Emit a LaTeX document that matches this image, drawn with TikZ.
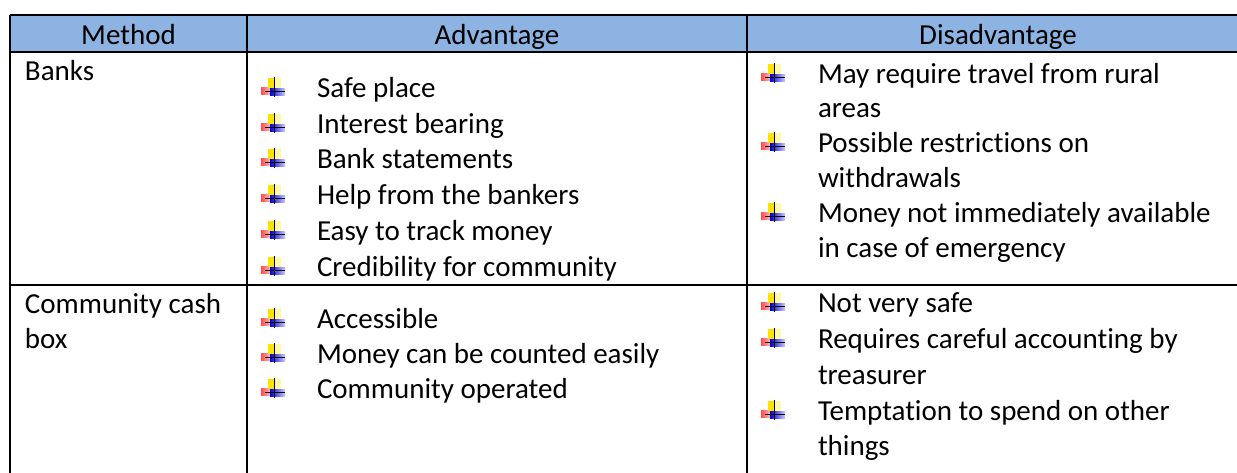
\documentclass[tikz,border=0pt]{standalone}
\usepackage{fontspec}
\setmainfont{Carlito}[Ligatures=NoCommon]
\begin{document}
\begin{tikzpicture}[x=0.5pt,y=-0.5pt,
  txt/.style={anchor=base west,inner sep=0pt,outer sep=0pt,font=\fontsize{14.5}{17}\selectfont},
  hdr/.style={anchor=base,inner sep=0pt,outer sep=0pt,font=\fontsize{14.5}{17}\selectfont},
  grid/.style={line width=1pt,black},
  bul/.pic={
    \shade[left color=red!70,right color=red!20] (-1,-10) rectangle (10,-2.5);
    \fill[yellow!85!orange] (6,-19.5) rectangle (12.5,-9);
    \fill[yellow!35] (12.5,-19.5) rectangle (18.5,-9);
    \shade[left color=blue!85!black,right color=blue!20] (8,-9) rectangle (23,-1.5);
    \draw[line width=0.75pt,black] (12.5,-20.5) -- (12.5,0);
    \draw[line width=0.75pt,black] (3,-5.5) -- (23,-5.5);
  }]
\useasboundingbox (0,0) rectangle (1237,472);
\clip (0,0) rectangle (1237,472);
\fill[white] (0,0) rectangle (1237,472);
% header
\fill[fill={rgb,255:red,141;green,179;blue,226}] (10,15) rectangle (1260,52);
\node[hdr] (hm) at (128.5,44) {Method};
\node[hdr] (ha) at (497,44) {Advantage};
\node[hdr] (hd) at (998,44) {Disadvantage};
% grid
\draw[grid] (10,15) -- (1260,15);
\draw[grid] (10,52) -- (1260,52);
\draw[grid] (10,285) -- (1260,285);
\draw[grid] (10,15) -- (10,490);
\draw[grid] (247,15) -- (247,490);
\draw[grid] (747,15) -- (747,490);
% method column
\node[txt] (m1) at (25,80) {Banks};
\node[txt] (m2a) at (25,313) {Community cash};
\node[txt] (m2b) at (25,348) {box};
% advantages row 1
\foreach \yy/\tt [count=\i] in {97/Safe place,133/Interest bearing,168/Bank statements,204/Help from the bankers,240/Easy to track money,276/Credibility for community}{
  \pic at (262,\yy) {bul};
  \node[txt] (a1\i) at (317,\yy) {\tt};
}
% advantages row 2
\foreach \yy/\tt [count=\i] in {328/Accessible,363/Money can be counted easily,398/Community operated}{
  \pic at (262,\yy) {bul};
  \node[txt] (a2\i) at (317,\yy) {\tt};
}
% disadvantages row 1
\pic at (762,83) {bul};
\node[txt] (d11) at (818,83) {May require travel from rural};
\node[txt] (d12) at (818,117) {areas};
\pic at (762,152) {bul};
\node[txt] (d13) at (818,152) {Possible restrictions on};
\node[txt] (d14) at (818,187) {withdrawals};
\pic at (762,222) {bul};
\node[txt] (d15) at (818,222) {Money not immediately available};
\node[txt] (d16) at (818,257) {in case of emergency};
% disadvantages row 2
\pic at (762,312) {bul};
\node[txt] (d21) at (818,312) {Not very safe};
\pic at (762,348) {bul};
\node[txt] (d22) at (818,348) {Requires careful accounting by};
\node[txt] (d23) at (818,384) {treasurer};
\pic at (762,420) {bul};
\node[txt] (d24) at (818,420) {Temptation to spend on other};
\node[txt] (d25) at (818,455) {things};
\end{tikzpicture}
\end{document}
